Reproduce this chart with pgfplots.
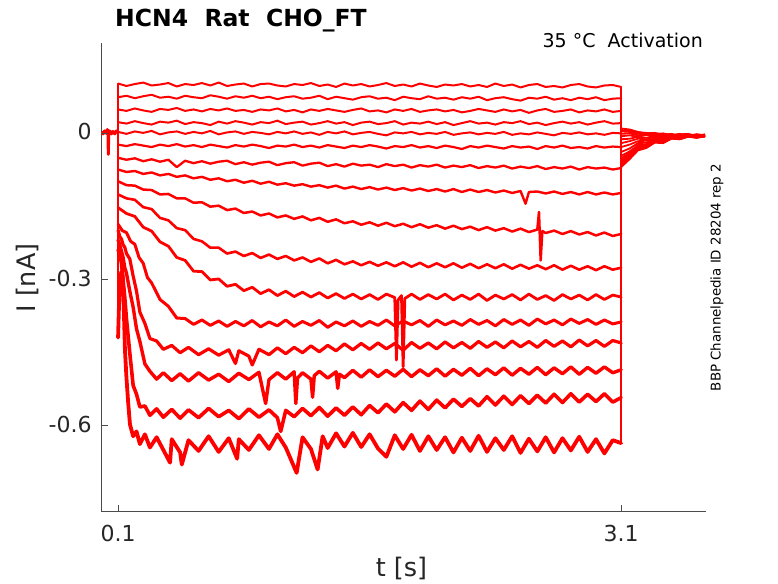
\documentclass[border=0pt]{standalone}
\usepackage{fontspec}
\setmainfont{DejaVu Sans}
\usepackage{pgfplots}
\pgfplotsset{compat=1.18}
\definecolor{axgray}{RGB}{38,38,38}
\pgfplotsset{
  tr/.style={color=red, line width=#1, line join=round, line cap=round, mark=none},
  tr/.default=2pt,
  tl/.style={color=red, line width=1.8pt, line join=round, mark=none}}
\begin{document}
\begin{tikzpicture}
\useasboundingbox (0,0) rectangle (778pt,583pt);
\begin{axis}[
  at={(101.3pt,71.5pt)}, anchor=south west,
  width=604.2pt, height=468.5pt, scale only axis,
  xmin=0, xmax=3.603, ymin=-0.776, ymax=0.183,
  axis lines*=left,
  axis line style={draw=black!70, line width=0.7pt},
  tick align=inside,
  major tick length=7pt,
  tick style={draw=black!70, line width=0.7pt},
  xtick={0.1,3.1}, xticklabels={0.1,3.1},
  ytick={-0.6,-0.3,0}, yticklabels={-0.6,-0.3,0},
  ticklabel style={font=\fontsize{22}{26}\selectfont, text=axgray, inner sep=0pt},
  xticklabel style={anchor=base, yshift=-30.2pt},
  yticklabel style={anchor=base east, xshift=-9.6pt, yshift=-7.4pt},
  xlabel={t [s]}, ylabel={I [nA]},
  label style={font=\fontsize{25.5}{30}\selectfont, text=axgray, inner sep=0pt},
  xlabel style={at={(axis description cs:0.4967,-0.1383)}, anchor=base},
  ylabel style={at={(axis description cs:-0.1097,0.4984)}, anchor=base},
]
% holding
\addplot[color=red, line width=3pt, line join=round] coordinates {(0,0.001) (0.01,-0.003) (0.02,0.003) (0.03,-0.002) (0.036,0.006) (0.04,-0.004) (0.042,-0.045) (0.044,-0.002) (0.05,0.003) (0.06,-0.003) (0.07,0.002) (0.08,-0.003) (0.09,0.003) (0.1,0)};
\addplot[color=black!70, line width=1pt] coordinates {(0,-0.003) (0.04,-0.003)};
% step edges
\addplot[color=red, line width=1.4pt] coordinates {(0.1,0.100) (0.1,-0.420)};
\addplot[color=red, line width=1.4pt] coordinates {(3.1,0.093) (3.1,-0.636)};
% T1
\addplot[tr=2pt] coordinates {(0.10,0.100) (0.15,0.095) (0.20,0.099) (0.25,0.102) (0.30,0.096) (0.35,0.098) (0.40,0.101) (0.45,0.094) (0.50,0.099) (0.55,0.097) (0.60,0.101) (0.65,0.096) (0.70,0.102) (0.75,0.095) (0.80,0.098) (0.85,0.100) (0.90,0.094) (0.95,0.099) (1.00,0.100) (1.05,0.096) (1.10,0.094) (1.15,0.099) (1.20,0.097) (1.25,0.101) (1.30,0.095) (1.35,0.098) (1.40,0.093) (1.45,0.100) (1.50,0.096) (1.55,0.099) (1.60,0.094) (1.65,0.097) (1.70,0.101) (1.75,0.095) (1.80,0.098) (1.85,0.094) (1.90,0.100) (1.95,0.096) (2.00,0.093) (2.05,0.098) (2.10,0.096) (2.15,0.099) (2.20,0.094) (2.25,0.097) (2.30,0.093) (2.35,0.100) (2.40,0.095) (2.45,0.098) (2.50,0.092) (2.55,0.097) (2.60,0.099) (2.65,0.093) (2.70,0.095) (2.75,0.092) (2.80,0.097) (2.85,0.099) (2.90,0.094) (2.95,0.092) (3.00,0.096) (3.05,0.097) (3.10,0.093)};
\addplot[tl] coordinates {(3.10,0.008) (3.15,0.006) (3.20,0.001) (3.25,-0.002) (3.30,-0.001) (3.35,-0.004) (3.40,-0.006) (3.45,-0.003) (3.50,-0.007) (3.55,-0.004) (3.60,-0.006)};
% T2
\addplot[tr=2pt] coordinates {(0.10,0.072) (0.15,0.075) (0.20,0.070) (0.25,0.074) (0.30,0.077) (0.35,0.071) (0.40,0.073) (0.45,0.069) (0.50,0.075) (0.55,0.072) (0.60,0.070) (0.65,0.076) (0.70,0.073) (0.75,0.069) (0.80,0.074) (0.85,0.071) (0.90,0.075) (0.95,0.070) (1.00,0.073) (1.05,0.068) (1.10,0.072) (1.15,0.074) (1.20,0.069) (1.25,0.071) (1.30,0.075) (1.35,0.068) (1.40,0.073) (1.45,0.070) (1.50,0.067) (1.55,0.072) (1.60,0.074) (1.65,0.069) (1.70,0.071) (1.75,0.066) (1.80,0.073) (1.85,0.070) (1.90,0.068) (1.95,0.074) (2.00,0.069) (2.05,0.071) (2.10,0.067) (2.15,0.072) (2.20,0.069) (2.25,0.073) (2.30,0.066) (2.35,0.070) (2.40,0.072) (2.45,0.068) (2.50,0.065) (2.55,0.071) (2.60,0.069) (2.65,0.073) (2.70,0.067) (2.75,0.070) (2.80,0.066) (2.85,0.071) (2.90,0.068) (2.95,0.072) (3.00,0.066) (3.05,0.069) (3.10,0.070)};
\addplot[tl] coordinates {(3.10,0.005) (3.15,0.003) (3.20,0.000) (3.25,-0.001) (3.30,-0.004) (3.35,-0.002) (3.40,-0.006) (3.45,-0.004) (3.50,-0.003) (3.55,-0.007) (3.60,-0.005)};
% T3
\addplot[tr=2pt] coordinates {(0.10,0.047) (0.15,0.044) (0.20,0.049) (0.25,0.045) (0.30,0.042) (0.35,0.048) (0.40,0.046) (0.45,0.050) (0.50,0.044) (0.55,0.047) (0.60,0.043) (0.65,0.048) (0.70,0.045) (0.75,0.049) (0.80,0.044) (0.85,0.046) (0.90,0.042) (0.95,0.047) (1.00,0.045) (1.05,0.049) (1.10,0.043) (1.15,0.046) (1.20,0.041) (1.25,0.047) (1.30,0.044) (1.35,0.048) (1.40,0.045) (1.45,0.042) (1.50,0.046) (1.55,0.049) (1.60,0.043) (1.65,0.045) (1.70,0.041) (1.75,0.047) (1.80,0.044) (1.85,0.048) (1.90,0.042) (1.95,0.045) (2.00,0.047) (2.05,0.043) (2.10,0.046) (2.15,0.041) (2.20,0.044) (2.25,0.048) (2.30,0.045) (2.35,0.042) (2.40,0.047) (2.45,0.043) (2.50,0.046) (2.55,0.040) (2.60,0.045) (2.65,0.048) (2.70,0.042) (2.75,0.044) (2.80,0.047) (2.85,0.041) (2.90,0.045) (2.95,0.043) (3.00,0.047) (3.05,0.042) (3.10,0.044)};
\addplot[tl] coordinates {(3.10,0.002) (3.15,0.001) (3.20,-0.003) (3.25,-0.001) (3.30,-0.005) (3.35,-0.003) (3.40,-0.006) (3.45,-0.004) (3.50,-0.007) (3.55,-0.004) (3.60,-0.006)};
% T4
\addplot[tr=2pt] coordinates {(0.10,0.021) (0.15,0.018) (0.20,0.023) (0.25,0.019) (0.30,0.016) (0.35,0.022) (0.40,0.020) (0.45,0.024) (0.50,0.017) (0.55,0.021) (0.60,0.019) (0.65,0.015) (0.70,0.022) (0.75,0.018) (0.80,0.023) (0.85,0.020) (0.90,0.016) (0.95,0.021) (1.00,0.019) (1.05,0.024) (1.10,0.017) (1.15,0.020) (1.20,0.022) (1.25,0.016) (1.30,0.019) (1.35,0.023) (1.40,0.018) (1.45,0.021) (1.50,0.015) (1.55,0.020) (1.60,0.022) (1.65,0.017) (1.70,0.019) (1.75,0.023) (1.80,0.016) (1.85,0.020) (1.90,0.018) (1.95,0.022) (2.00,0.017) (2.05,0.021) (2.10,0.015) (2.15,0.019) (2.20,0.023) (2.25,0.018) (2.30,0.020) (2.35,0.016) (2.40,0.021) (2.45,0.019) (2.50,0.023) (2.55,0.017) (2.60,0.020) (2.65,0.015) (2.70,0.019) (2.75,0.022) (2.80,0.018) (2.85,0.021) (2.90,0.016) (2.95,0.020) (3.00,0.023) (3.05,0.018) (3.10,0.019)};
\addplot[tl] coordinates {(3.10,-0.003) (3.15,-0.002) (3.20,-0.006) (3.25,-0.004) (3.30,-0.007) (3.35,-0.005) (3.40,-0.003) (3.45,-0.007) (3.50,-0.005) (3.55,-0.008) (3.60,-0.006)};
% T5
\addplot[tr=2pt] coordinates {(0.10,0.001) (0.15,-0.003) (0.20,0.002) (0.25,-0.001) (0.30,0.003) (0.35,-0.004) (0.40,0.000) (0.45,0.002) (0.50,-0.003) (0.55,0.001) (0.60,-0.002) (0.65,0.003) (0.70,-0.004) (0.75,0.000) (0.80,0.002) (0.85,-0.003) (0.90,0.001) (0.95,-0.001) (1.00,-0.004) (1.05,0.001) (1.10,-0.002) (1.15,0.002) (1.20,-0.003) (1.25,0.000) (1.30,-0.005) (1.35,0.001) (1.40,-0.002) (1.45,0.002) (1.50,-0.004) (1.55,-0.001) (1.60,0.001) (1.65,-0.003) (1.70,-0.006) (1.75,0.000) (1.80,-0.002) (1.85,0.001) (1.90,-0.004) (1.95,-0.001) (2.00,-0.003) (2.05,0.001) (2.10,-0.005) (2.15,-0.002) (2.20,0.000) (2.25,-0.004) (2.30,-0.001) (2.35,-0.003) (2.40,0.001) (2.45,-0.005) (2.50,-0.002) (2.55,-0.004) (2.60,0.000) (2.65,-0.003) (2.70,-0.006) (2.75,-0.001) (2.80,-0.003) (2.85,0.000) (2.90,-0.004) (2.95,-0.002) (3.00,-0.005) (3.05,-0.001) (3.10,-0.002)};
\addplot[tl] coordinates {(3.10,-0.008) (3.15,-0.006) (3.20,-0.009) (3.25,-0.005) (3.30,-0.008) (3.35,-0.006) (3.40,-0.004) (3.45,-0.008) (3.50,-0.005) (3.55,-0.007) (3.60,-0.004)};
% T6
\addplot[tr=2.2pt] coordinates {(0.10,-0.025) (0.15,-0.028) (0.20,-0.024) (0.25,-0.027) (0.30,-0.030) (0.35,-0.025) (0.40,-0.028) (0.45,-0.024) (0.50,-0.029) (0.55,-0.026) (0.60,-0.030) (0.65,-0.025) (0.70,-0.028) (0.75,-0.031) (0.80,-0.026) (0.85,-0.029) (0.90,-0.025) (0.95,-0.028) (1.00,-0.032) (1.05,-0.027) (1.10,-0.029) (1.15,-0.025) (1.20,-0.030) (1.25,-0.027) (1.30,-0.031) (1.35,-0.026) (1.40,-0.029) (1.45,-0.032) (1.50,-0.027) (1.55,-0.030) (1.60,-0.026) (1.65,-0.029) (1.70,-0.033) (1.75,-0.028) (1.80,-0.030) (1.85,-0.026) (1.90,-0.031) (1.95,-0.028) (2.00,-0.032) (2.05,-0.027) (2.10,-0.030) (2.15,-0.034) (2.20,-0.028) (2.25,-0.031) (2.30,-0.027) (2.35,-0.030) (2.40,-0.033) (2.45,-0.028) (2.50,-0.031) (2.55,-0.029) (2.60,-0.034) (2.65,-0.028) (2.70,-0.031) (2.75,-0.027) (2.80,-0.032) (2.85,-0.030) (2.90,-0.033) (2.95,-0.028) (3.00,-0.031) (3.05,-0.029) (3.10,-0.030)};
\addplot[tl] coordinates {(3.10,-0.014) (3.15,-0.013) (3.20,-0.009) (3.25,-0.011) (3.30,-0.007) (3.35,-0.009) (3.40,-0.006) (3.45,-0.008) (3.50,-0.005) (3.55,-0.008) (3.60,-0.006)};
% T7
\addplot[tr=2.3pt] coordinates {(0.10,-0.052) (0.15,-0.056) (0.20,-0.053) (0.25,-0.059) (0.30,-0.055) (0.35,-0.060) (0.40,-0.056) (0.45,-0.071) (0.50,-0.058) (0.55,-0.063) (0.60,-0.059) (0.65,-0.064) (0.70,-0.060) (0.75,-0.058) (0.80,-0.065) (0.85,-0.061) (0.90,-0.066) (0.95,-0.062) (1.00,-0.060) (1.05,-0.067) (1.10,-0.063) (1.15,-0.061) (1.20,-0.068) (1.25,-0.064) (1.30,-0.062) (1.35,-0.069) (1.40,-0.065) (1.45,-0.070) (1.50,-0.064) (1.55,-0.068) (1.60,-0.066) (1.65,-0.071) (1.70,-0.065) (1.75,-0.069) (1.80,-0.066) (1.85,-0.072) (1.90,-0.067) (1.95,-0.070) (2.00,-0.066) (2.05,-0.072) (2.10,-0.068) (2.15,-0.071) (2.20,-0.067) (2.25,-0.073) (2.30,-0.069) (2.35,-0.072) (2.40,-0.068) (2.45,-0.074) (2.50,-0.070) (2.55,-0.073) (2.60,-0.069) (2.65,-0.075) (2.70,-0.071) (2.75,-0.074) (2.80,-0.070) (2.85,-0.076) (2.90,-0.071) (2.95,-0.074) (3.00,-0.072) (3.05,-0.076) (3.10,-0.073)};
\addplot[tl] coordinates {(3.10,-0.022) (3.15,-0.018) (3.20,-0.013) (3.25,-0.014) (3.30,-0.009) (3.35,-0.011) (3.40,-0.007) (3.45,-0.009) (3.50,-0.006) (3.55,-0.008) (3.60,-0.006)};
% T8
\addplot[tr=2.4pt] coordinates {(0.10,-0.076) (0.15,-0.081) (0.20,-0.079) (0.25,-0.085) (0.30,-0.082) (0.35,-0.088) (0.40,-0.085) (0.45,-0.091) (0.50,-0.088) (0.55,-0.094) (0.60,-0.091) (0.65,-0.097) (0.70,-0.094) (0.75,-0.100) (0.80,-0.097) (0.85,-0.103) (0.90,-0.099) (0.95,-0.105) (1.00,-0.101) (1.05,-0.107) (1.10,-0.104) (1.15,-0.109) (1.20,-0.106) (1.25,-0.111) (1.30,-0.108) (1.35,-0.113) (1.40,-0.109) (1.45,-0.115) (1.50,-0.111) (1.55,-0.116) (1.60,-0.112) (1.65,-0.117) (1.70,-0.113) (1.75,-0.118) (1.80,-0.114) (1.85,-0.119) (1.90,-0.115) (1.95,-0.120) (2.00,-0.116) (2.05,-0.121) (2.10,-0.116) (2.15,-0.122) (2.20,-0.117) (2.25,-0.122) (2.30,-0.118) (2.35,-0.123) (2.40,-0.119) (2.45,-0.124) (2.50,-0.120) (2.53,-0.146) (2.55,-0.122) (2.60,-0.121) (2.65,-0.125) (2.70,-0.121) (2.75,-0.126) (2.80,-0.122) (2.85,-0.127) (2.90,-0.122) (2.95,-0.127) (3.00,-0.123) (3.05,-0.127) (3.10,-0.124)};
\addplot[tl] coordinates {(3.10,-0.030) (3.15,-0.025) (3.20,-0.018) (3.25,-0.017) (3.30,-0.012) (3.35,-0.013) (3.40,-0.008) (3.45,-0.010) (3.50,-0.006) (3.55,-0.009) (3.60,-0.007)};
% T9
\addplot[tr=2.5pt] coordinates {(0.10,-0.100) (0.15,-0.108) (0.20,-0.109) (0.25,-0.117) (0.30,-0.118) (0.35,-0.127) (0.40,-0.126) (0.45,-0.135) (0.50,-0.135) (0.55,-0.144) (0.60,-0.143) (0.65,-0.152) (0.70,-0.150) (0.75,-0.159) (0.80,-0.156) (0.85,-0.165) (0.90,-0.162) (0.95,-0.170) (1.00,-0.166) (1.05,-0.174) (1.10,-0.170) (1.15,-0.177) (1.20,-0.172) (1.25,-0.180) (1.30,-0.175) (1.35,-0.183) (1.40,-0.178) (1.45,-0.186) (1.50,-0.182) (1.55,-0.189) (1.60,-0.184) (1.65,-0.191) (1.70,-0.185) (1.75,-0.192) (1.80,-0.187) (1.85,-0.194) (1.90,-0.188) (1.95,-0.195) (2.00,-0.190) (2.05,-0.197) (2.10,-0.191) (2.15,-0.198) (2.20,-0.193) (2.25,-0.200) (2.30,-0.194) (2.35,-0.201) (2.40,-0.196) (2.45,-0.203) (2.50,-0.197) (2.55,-0.204) (2.60,-0.199) (2.61,-0.163) (2.62,-0.262) (2.63,-0.202) (2.65,-0.206) (2.70,-0.201) (2.75,-0.208) (2.80,-0.202) (2.85,-0.209) (2.90,-0.204) (2.95,-0.211) (3.00,-0.205) (3.05,-0.212) (3.10,-0.208)};
\addplot[tl] coordinates {(3.10,-0.040) (3.15,-0.033) (3.20,-0.022) (3.25,-0.021) (3.30,-0.013) (3.35,-0.015) (3.40,-0.009) (3.45,-0.011) (3.50,-0.006) (3.55,-0.009) (3.60,-0.007)};
% T10
\addplot[tr=2.6pt] coordinates {(0.10,-0.127) (0.15,-0.135) (0.20,-0.138) (0.25,-0.153) (0.30,-0.157) (0.35,-0.175) (0.40,-0.180) (0.45,-0.196) (0.50,-0.200) (0.55,-0.218) (0.60,-0.223) (0.65,-0.236) (0.70,-0.236) (0.75,-0.248) (0.80,-0.244) (0.85,-0.253) (0.90,-0.247) (0.95,-0.257) (1.00,-0.250) (1.05,-0.259) (1.10,-0.253) (1.15,-0.262) (1.20,-0.256) (1.25,-0.265) (1.30,-0.258) (1.35,-0.268) (1.40,-0.261) (1.45,-0.270) (1.50,-0.264) (1.55,-0.272) (1.60,-0.265) (1.65,-0.273) (1.70,-0.266) (1.75,-0.274) (1.80,-0.266) (1.85,-0.275) (1.90,-0.267) (1.95,-0.276) (2.00,-0.268) (2.05,-0.276) (2.10,-0.268) (2.15,-0.277) (2.20,-0.269) (2.25,-0.278) (2.30,-0.270) (2.35,-0.278) (2.40,-0.270) (2.45,-0.279) (2.50,-0.271) (2.55,-0.279) (2.60,-0.272) (2.65,-0.280) (2.70,-0.272) (2.75,-0.281) (2.80,-0.273) (2.85,-0.281) (2.90,-0.274) (2.95,-0.282) (3.00,-0.274) (3.05,-0.281) (3.10,-0.277)};
\addplot[tl] coordinates {(3.10,-0.048) (3.15,-0.039) (3.20,-0.026) (3.25,-0.024) (3.30,-0.015) (3.35,-0.016) (3.40,-0.010) (3.45,-0.012) (3.50,-0.006) (3.55,-0.010) (3.60,-0.007)};
% T11
\addplot[tr=2.8pt] coordinates {(0.10,-0.154) (0.15,-0.166) (0.20,-0.172) (0.25,-0.194) (0.30,-0.202) (0.35,-0.224) (0.40,-0.233) (0.45,-0.256) (0.50,-0.262) (0.55,-0.284) (0.60,-0.285) (0.65,-0.302) (0.70,-0.300) (0.75,-0.315) (0.80,-0.311) (0.85,-0.324) (0.90,-0.317) (0.95,-0.330) (1.00,-0.322) (1.05,-0.334) (1.10,-0.325) (1.15,-0.336) (1.20,-0.327) (1.25,-0.337) (1.30,-0.328) (1.35,-0.339) (1.40,-0.330) (1.45,-0.340) (1.50,-0.331) (1.55,-0.341) (1.60,-0.332) (1.65,-0.342) (1.70,-0.331) (1.75,-0.338) (1.76,-0.466) (1.77,-0.343) (1.79,-0.334) (1.80,-0.480) (1.81,-0.340) (1.85,-0.331) (1.90,-0.342) (1.95,-0.332) (2.00,-0.341) (2.05,-0.331) (2.10,-0.343) (2.15,-0.333) (2.20,-0.342) (2.25,-0.331) (2.30,-0.344) (2.35,-0.333) (2.40,-0.341) (2.45,-0.332) (2.50,-0.343) (2.55,-0.331) (2.60,-0.342) (2.65,-0.334) (2.70,-0.344) (2.75,-0.332) (2.80,-0.341) (2.85,-0.333) (2.90,-0.343) (2.95,-0.332) (3.00,-0.342) (3.05,-0.333) (3.10,-0.337)};
\addplot[tl] coordinates {(3.10,-0.053) (3.15,-0.042) (3.20,-0.028) (3.25,-0.026) (3.30,-0.016) (3.35,-0.017) (3.40,-0.010) (3.45,-0.012) (3.50,-0.007) (3.55,-0.010) (3.60,-0.007)};
% T12
\addplot[tr=3pt] coordinates {(0.100,-0.188) (0.125,-0.201) (0.150,-0.205) (0.175,-0.223) (0.200,-0.229) (0.225,-0.256) (0.250,-0.268) (0.275,-0.297) (0.300,-0.308) (0.350,-0.342) (0.400,-0.356) (0.450,-0.380) (0.500,-0.381) (0.550,-0.393) (0.600,-0.384) (0.650,-0.395) (0.700,-0.386) (0.750,-0.397) (0.800,-0.387) (0.850,-0.396) (0.900,-0.385) (0.950,-0.398) (1.00,-0.388) (1.05,-0.396) (1.10,-0.384) (1.15,-0.397) (1.20,-0.387) (1.25,-0.395) (1.30,-0.385) (1.35,-0.399) (1.40,-0.388) (1.45,-0.396) (1.50,-0.386) (1.55,-0.397) (1.60,-0.387) (1.65,-0.395) (1.70,-0.384) (1.75,-0.396) (1.80,-0.386) (1.85,-0.394) (1.90,-0.385) (1.95,-0.397) (2.00,-0.384) (2.05,-0.394) (2.10,-0.386) (2.15,-0.395) (2.20,-0.383) (2.25,-0.393) (2.30,-0.385) (2.35,-0.396) (2.40,-0.383) (2.45,-0.393) (2.50,-0.384) (2.55,-0.395) (2.60,-0.382) (2.65,-0.392) (2.70,-0.384) (2.75,-0.394) (2.80,-0.382) (2.85,-0.391) (2.90,-0.383) (2.95,-0.393) (3.00,-0.384) (3.05,-0.392) (3.10,-0.388)};
\addplot[tl] coordinates {(3.10,-0.057) (3.15,-0.045) (3.20,-0.030) (3.25,-0.027) (3.30,-0.017) (3.35,-0.018) (3.40,-0.011) (3.45,-0.013) (3.50,-0.007) (3.55,-0.010) (3.60,-0.008)};
% T13
\addplot[tr=3.2pt] coordinates {(0.100,-0.200) (0.110,-0.213) (0.120,-0.218) (0.130,-0.230) (0.140,-0.235) (0.150,-0.248) (0.170,-0.259) (0.190,-0.294) (0.210,-0.325) (0.230,-0.368) (0.260,-0.391) (0.290,-0.422) (0.330,-0.427) (0.370,-0.444) (0.420,-0.436) (0.470,-0.451) (0.520,-0.440) (0.580,-0.455) (0.640,-0.443) (0.700,-0.456) (0.760,-0.445) (0.800,-0.473) (0.820,-0.447) (0.880,-0.458) (0.900,-0.476) (0.940,-0.444) (1.00,-0.455) (1.05,-0.441) (1.10,-0.453) (1.15,-0.440) (1.20,-0.451) (1.25,-0.437) (1.30,-0.449) (1.35,-0.436) (1.40,-0.447) (1.45,-0.433) (1.50,-0.445) (1.55,-0.432) (1.60,-0.444) (1.65,-0.431) (1.70,-0.443) (1.75,-0.432) (1.80,-0.446) (1.85,-0.430) (1.90,-0.442) (1.95,-0.431) (2.00,-0.443) (2.05,-0.429) (2.10,-0.441) (2.15,-0.430) (2.20,-0.442) (2.25,-0.428) (2.30,-0.440) (2.35,-0.429) (2.40,-0.441) (2.45,-0.427) (2.50,-0.439) (2.55,-0.428) (2.60,-0.440) (2.65,-0.426) (2.70,-0.438) (2.75,-0.427) (2.80,-0.439) (2.85,-0.425) (2.90,-0.437) (2.95,-0.426) (3.00,-0.438) (3.05,-0.426) (3.10,-0.431)};
\addplot[tl] coordinates {(3.10,-0.061) (3.15,-0.047) (3.20,-0.031) (3.25,-0.028) (3.30,-0.018) (3.35,-0.019) (3.40,-0.011) (3.45,-0.013) (3.50,-0.008) (3.55,-0.010) (3.60,-0.008)};
% T14
\addplot[tr=3.4pt] coordinates {(0.100,-0.220) (0.110,-0.230) (0.120,-0.243) (0.130,-0.256) (0.140,-0.277) (0.150,-0.288) (0.170,-0.325) (0.190,-0.358) (0.210,-0.402) (0.230,-0.428) (0.260,-0.474) (0.290,-0.489) (0.330,-0.505) (0.370,-0.492) (0.420,-0.508) (0.470,-0.494) (0.520,-0.509) (0.580,-0.492) (0.640,-0.507) (0.700,-0.495) (0.760,-0.510) (0.820,-0.493) (0.880,-0.506) (0.940,-0.491) (0.980,-0.555) (1.00,-0.506) (1.05,-0.492) (1.10,-0.505) (1.15,-0.490) (1.16,-0.555) (1.17,-0.503) (1.20,-0.492) (1.25,-0.505) (1.26,-0.542) (1.27,-0.498) (1.30,-0.489) (1.35,-0.503) (1.40,-0.490) (1.41,-0.524) (1.42,-0.495) (1.45,-0.502) (1.50,-0.487) (1.55,-0.501) (1.60,-0.486) (1.65,-0.500) (1.70,-0.487) (1.75,-0.499) (1.80,-0.485) (1.85,-0.500) (1.90,-0.486) (1.95,-0.498) (2.00,-0.484) (2.05,-0.499) (2.10,-0.485) (2.15,-0.497) (2.20,-0.483) (2.25,-0.498) (2.30,-0.484) (2.35,-0.496) (2.40,-0.482) (2.45,-0.497) (2.50,-0.483) (2.55,-0.495) (2.60,-0.481) (2.65,-0.496) (2.70,-0.482) (2.75,-0.494) (2.80,-0.480) (2.85,-0.495) (2.90,-0.481) (2.95,-0.493) (3.00,-0.480) (3.05,-0.492) (3.10,-0.486)};
\addplot[tl] coordinates {(3.10,-0.064) (3.15,-0.050) (3.20,-0.033) (3.25,-0.029) (3.30,-0.019) (3.35,-0.020) (3.40,-0.012) (3.45,-0.013) (3.50,-0.008) (3.55,-0.010) (3.60,-0.008)};
% T15
\addplot[tr=3.6pt] coordinates {(0.100,-0.240) (0.110,-0.250) (0.120,-0.267) (0.130,-0.302) (0.140,-0.338) (0.150,-0.381) (0.170,-0.452) (0.190,-0.518) (0.210,-0.536) (0.230,-0.562) (0.260,-0.560) (0.290,-0.579) (0.330,-0.566) (0.370,-0.583) (0.420,-0.567) (0.470,-0.585) (0.520,-0.568) (0.580,-0.584) (0.640,-0.565) (0.700,-0.582) (0.760,-0.569) (0.820,-0.586) (0.880,-0.566) (0.940,-0.583) (1.00,-0.568) (1.05,-0.584) (1.07,-0.612) (1.10,-0.569) (1.15,-0.582) (1.20,-0.565) (1.25,-0.580) (1.30,-0.563) (1.35,-0.581) (1.40,-0.564) (1.45,-0.579) (1.50,-0.562) (1.55,-0.578) (1.60,-0.559) (1.65,-0.574) (1.70,-0.556) (1.75,-0.572) (1.80,-0.553) (1.85,-0.569) (1.90,-0.550) (1.95,-0.567) (2.00,-0.548) (2.05,-0.564) (2.10,-0.546) (2.15,-0.561) (2.20,-0.545) (2.25,-0.560) (2.30,-0.541) (2.35,-0.558) (2.40,-0.540) (2.45,-0.557) (2.50,-0.539) (2.55,-0.555) (2.60,-0.538) (2.65,-0.554) (2.70,-0.536) (2.75,-0.553) (2.80,-0.535) (2.85,-0.552) (2.90,-0.536) (2.95,-0.551) (3.00,-0.535) (3.05,-0.552) (3.10,-0.543)};
\addplot[tl] coordinates {(3.10,-0.068) (3.15,-0.053) (3.20,-0.035) (3.25,-0.031) (3.30,-0.020) (3.35,-0.021) (3.40,-0.012) (3.45,-0.014) (3.50,-0.008) (3.55,-0.011) (3.60,-0.008)};
% T16
\addplot[tr=3.8pt] coordinates {(0.100,-0.420) (0.110,-0.300) (0.120,-0.285) (0.128,-0.295) (0.135,-0.370) (0.141,-0.445) (0.150,-0.502) (0.160,-0.552) (0.171,-0.598) (0.190,-0.622) (0.210,-0.612) (0.230,-0.638) (0.260,-0.618) (0.290,-0.645) (0.330,-0.624) (0.370,-0.650) (0.410,-0.676) (0.420,-0.628) (0.470,-0.655) (0.480,-0.680) (0.520,-0.630) (0.580,-0.652) (0.640,-0.622) (0.700,-0.654) (0.760,-0.626) (0.810,-0.668) (0.820,-0.628) (0.880,-0.650) (0.940,-0.620) (1.00,-0.648) (1.05,-0.618) (1.10,-0.645) (1.165,-0.697) (1.20,-0.624) (1.25,-0.648) (1.29,-0.690) (1.32,-0.622) (1.35,-0.646) (1.40,-0.616) (1.45,-0.643) (1.50,-0.615) (1.55,-0.644) (1.60,-0.618) (1.65,-0.647) (1.70,-0.664) (1.75,-0.620) (1.80,-0.648) (1.85,-0.619) (1.90,-0.652) (1.95,-0.622) (2.00,-0.650) (2.05,-0.624) (2.10,-0.655) (2.15,-0.625) (2.20,-0.652) (2.25,-0.621) (2.30,-0.654) (2.35,-0.626) (2.40,-0.650) (2.45,-0.622) (2.50,-0.656) (2.55,-0.627) (2.60,-0.653) (2.65,-0.624) (2.70,-0.655) (2.75,-0.626) (2.80,-0.651) (2.85,-0.623) (2.90,-0.654) (2.95,-0.628) (3.00,-0.657) (3.05,-0.630) (3.10,-0.636)};
\addplot[tl] coordinates {(3.10,-0.071) (3.15,-0.055) (3.20,-0.037) (3.25,-0.032) (3.30,-0.021) (3.35,-0.022) (3.40,-0.013) (3.45,-0.014) (3.50,-0.009) (3.55,-0.011) (3.60,-0.008)};
\end{axis}
\node[anchor=base west, inner sep=0pt, font=\bfseries\fontsize{23.5}{28}\selectfont, text=black] at (115pt,556.3pt) {HCN4\ \ Rat\ \ CHO\_FT};
\node[anchor=base east, inner sep=0pt, font=\fontsize{19}{23}\selectfont, text=black] at (703pt,535.7pt) {35 °C\ \ Activation};
\node[rotate=90, inner sep=0pt, font=\fontsize{13.4}{16}\selectfont, text=black] at (717pt,305.5pt) {BBP Channelpedia ID 28204 rep 2};
\end{tikzpicture}
\end{document}
